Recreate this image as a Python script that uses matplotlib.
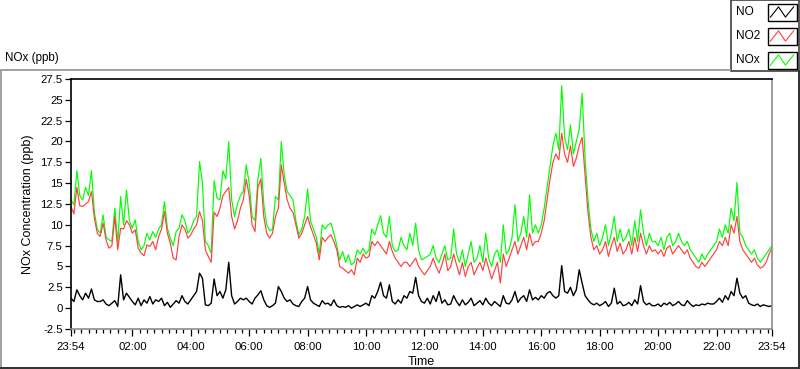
import numpy as np
import matplotlib
matplotlib.use("Agg")
import matplotlib.pyplot as plt
from matplotlib.patches import Rectangle

plt.rcParams["font.family"] = ["Liberation Sans", "DejaVu Sans"]
plt.rcParams["axes.unicode_minus"] = False

# hours since 23:54, one sample every 6 minutes (10 per hour)
STEP_H = 0.1

# NOx (ppb), rows = hours after 23:54
nox = [
    13.0, 12.4, 16.5, 13.5, 13.0, 14.5, 13.5, 16.5, 11.5, 9.5,
    9.0, 11.2, 8.5, 8.2, 8.0, 12.0, 7.8, 13.4, 10.0, 14.2,
    10.5, 9.6, 10.6, 8.0, 7.0, 7.5, 9.0, 8.2, 9.2, 8.5,
    9.5, 10.0, 12.8, 9.6, 8.4, 7.5, 9.2, 9.6, 11.2, 10.5,
    9.0, 9.5, 10.5, 11.0, 17.6, 15.0, 8.0, 7.5, 6.6, 15.3,
    13.2, 13.0, 16.5, 15.5, 20.0, 13.0, 11.0, 12.5, 13.5, 14.0,
    17.2, 15.0, 11.0, 10.5, 15.5, 18.0, 12.5, 10.0, 9.3, 9.5,
    13.4, 13.0, 20.0, 16.0, 14.0, 13.5, 13.0, 10.5, 8.8, 9.5,
    11.0, 14.3, 10.5, 9.5, 8.5, 6.5, 10.0, 9.5, 10.0, 10.2,
    9.0, 7.5, 5.8, 6.8, 5.5, 6.4, 5.2, 5.5, 7.0, 6.5,
    7.2, 6.5, 7.0, 9.5, 8.8, 10.0, 11.1, 9.0, 8.5, 11.0,
    7.5, 6.8, 7.0, 8.5, 7.5, 7.0, 9.0, 7.5, 10.2, 7.0,
    5.8, 6.0, 6.2, 6.5, 7.5, 6.0, 5.5, 6.5, 7.5, 5.8,
    6.0, 9.5, 6.5, 5.5, 7.0, 5.0, 6.5, 8.0, 5.5, 6.0,
    7.5, 5.5, 9.0, 6.0, 5.0, 6.5, 7.0, 5.5, 10.0, 6.5,
    7.0, 8.5, 12.4, 8.0, 9.0, 11.0, 8.5, 13.6, 9.0, 10.0,
    9.0, 10.0, 12.0, 14.5, 17.0, 19.5, 21.0, 19.0, 26.7, 20.5,
    19.0, 22.0, 18.5, 20.0, 21.5, 25.8, 18.0, 13.0, 9.5, 8.0,
    9.0, 7.5, 8.5, 10.0, 7.5, 9.0, 11.0, 8.0, 9.5, 8.0,
    8.5, 9.5, 7.5, 10.5, 8.0, 11.8, 9.0, 7.5, 9.0, 8.0,
    8.0, 7.5, 8.5, 7.0, 8.5, 9.0, 7.5, 8.0, 9.0, 8.0,
    7.5, 8.0, 7.0, 6.5, 6.0, 5.5, 6.5, 5.8, 6.5, 7.0,
    7.5, 8.0, 9.5, 8.5, 10.0, 9.0, 12.0, 10.5, 15.1, 9.0,
    8.5, 7.5, 7.0, 6.5, 7.0, 6.0, 5.5, 6.0, 6.5, 7.0,
    7.5,
]

no2 = [
    12.2, 11.3, 14.5, 12.3, 12.2, 12.5, 12.8, 14.0, 10.8, 9.0,
    8.6, 10.2, 8.2, 7.2, 7.5, 11.0, 7.0, 9.6, 9.5, 10.5,
    10.0, 9.0, 9.4, 7.2, 6.6, 6.3, 7.6, 7.4, 8.0, 7.0,
    8.6, 9.5, 11.6, 9.0, 7.8, 6.0, 5.8, 8.6, 10.0, 9.5,
    8.4, 8.8, 9.5, 10.0, 11.6, 10.5, 7.0, 6.2, 5.5, 11.5,
    11.0, 12.0, 13.5, 14.0, 14.5, 11.0, 9.5, 10.5, 12.0, 13.0,
    15.5, 13.5, 10.0, 9.2, 14.5, 15.5, 11.0, 9.0, 8.4, 9.0,
    11.0, 12.0, 17.2, 15.0, 13.0, 12.0, 11.5, 10.0, 8.4, 9.0,
    10.0, 11.0, 9.8, 8.8, 7.8, 5.8, 8.5, 8.0, 8.5, 8.8,
    8.0, 7.0, 5.0, 4.8, 4.5, 4.2, 4.6, 4.0, 6.0, 5.5,
    6.5, 6.0, 6.2, 8.0, 7.5, 8.0, 7.5, 7.0, 6.5, 8.0,
    6.8, 6.0, 5.5, 5.0, 5.5, 5.5, 5.0, 5.5, 6.0, 5.0,
    4.5, 4.0, 4.5, 5.0, 6.0, 5.0, 4.2, 5.2, 6.5, 4.5,
    5.0, 6.5, 5.2, 4.0, 5.5, 3.8, 5.0, 5.5, 4.0, 4.8,
    5.5, 4.5, 6.0, 4.8, 3.5, 4.5, 5.5, 3.0, 6.5, 5.0,
    6.0, 7.0, 8.0, 6.5, 7.5, 8.5, 7.0, 9.0, 7.5, 8.0,
    8.0, 9.0, 10.5, 13.0, 15.5, 17.5, 18.5, 17.8, 21.0, 18.5,
    17.5, 19.5, 17.0, 18.0, 19.5, 20.5, 16.0, 11.5, 8.5, 7.0,
    7.5, 6.5, 7.0, 8.0, 6.2, 7.5, 8.5, 6.8, 7.8, 6.5,
    7.0, 8.0, 6.5, 8.5, 6.8, 9.0, 7.5, 6.5, 7.5, 6.8,
    7.0, 6.5, 7.0, 6.2, 7.2, 7.5, 6.5, 7.0, 7.5, 7.0,
    6.5, 7.0, 6.0, 5.5, 5.0, 4.8, 5.5, 5.0, 5.5, 6.0,
    6.5, 7.0, 8.0, 7.5, 8.5, 7.5, 10.0, 9.0, 11.0, 8.0,
    7.0, 6.5, 6.0, 5.5, 6.0, 5.2, 4.8, 5.0, 5.5, 6.5,
    7.2,
]

no = [
    1.2, 0.8, 2.2, 1.5, 1.0, 1.8, 1.2, 2.3, 1.0, 0.8,
    0.8, 1.0, 0.5, 0.3, 0.6, 0.9, 0.2, 4.0, 1.0, 1.8,
    1.3, 0.8, 0.4, 1.2, 0.3, 1.0, 0.6, 1.4, 0.5, 1.0,
    0.8, 1.2, 0.3, 0.7, 0.1, 0.5, 0.9, 0.6, 1.5, 0.8,
    0.5, 1.0, 1.5, 2.0, 4.2, 3.6, 0.4, 0.3, 0.6, 3.5,
    1.5, 2.0, 1.2, 2.2, 5.5, 1.5, 0.5, 0.8, 1.2, 1.0,
    1.2, 0.8, 0.5, 1.2, 1.6, 2.1, 1.0, 0.3, 0.1, 0.3,
    0.6, 2.6, 2.0, 1.2, 0.8, 1.0, 0.5, 0.3, 0.2, 0.8,
    1.2, 2.6, 1.0, 0.6, 0.4, 0.2, 0.9, 0.5, 0.6, 0.3,
    1.0, 0.3, 0.1, 0.2, 0.1, 0.3, 0.0, 0.2, 0.4, 0.2,
    0.4, 0.6, 0.3, 1.5, 1.2, 2.0, 3.1, 1.5, 1.2, 2.8,
    0.8, 0.5, 1.0, 0.6, 1.5, 1.2, 2.0, 1.8, 3.7, 1.5,
    0.8, 0.6, 1.2, 0.5, 1.5, 0.8, 2.0, 0.6, 1.0, 0.4,
    0.5, 1.5, 0.8, 0.3, 1.0, 0.4, 0.7, 1.2, 0.3, 0.6,
    0.9, 0.4, 1.2, 0.6, 0.3, 0.8, 0.5, 0.2, 1.5, 0.6,
    0.5, 1.0, 2.0, 0.7, 1.2, 1.5, 0.8, 2.2, 1.0, 1.3,
    1.0, 1.5, 1.2, 1.8, 2.0, 1.5, 1.2, 1.5, 5.1, 2.0,
    1.8, 2.5, 1.5, 2.2, 4.6, 3.0, 1.5, 1.0, 0.6, 0.4,
    0.6, 0.3, 0.5, 0.8, 0.2, 0.6, 2.4, 0.5, 0.8, 0.3,
    0.4, 0.7, 0.3, 1.0, 0.5, 2.7, 0.8, 0.4, 0.6, 0.3,
    0.3, 0.5, 0.2, 0.6, 0.4, 0.7, 0.3, 0.5, 0.8, 0.4,
    0.3, 0.9, 0.5, 0.2, 0.4, 0.3, 0.5, 0.4, 0.6, 0.5,
    0.5, 0.8, 1.2, 0.7, 1.5, 1.0, 2.0, 1.5, 3.6, 1.8,
    1.2, 1.5, 0.6, 0.4, 0.3, 0.5, 0.2, 0.4, 0.3, 0.2,
    0.3,
]

xtick_pos = [0, 2.1, 4.1, 6.1, 8.1, 10.1, 12.1, 14.1, 16.1, 18.1, 20.1, 22.1, 24]
xtick_labels = ["23:54", "02:00", "04:00", "06:00", "08:00", "10:00", "12:00",
                "14:00", "16:00", "18:00", "20:00", "22:00", "23:54"]
yticks = [-2.5, 0, 2.5, 5, 7.5, 10, 12.5, 15, 17.5, 20, 22.5, 25, 27.5]

series_names = ["NO", "NO2", "NOx"]
series_colors = ["#000000", "#ff4040", "#00ff00"]

W, H = 800, 369
fig = plt.figure(figsize=(W / 100, H / 100), dpi=100)
fig.patch.set_facecolor("white")

# background overlay in pixel coords for the panel frame + legend
bg = fig.add_axes([0, 0, 1, 1], zorder=0)
bg.set_xlim(0, W)
bg.set_ylim(H, 0)
bg.axis("off")
bg.plot([0.5, 0.5], [69.5, 368], color="#a0a0a0", lw=1.4)
bg.plot([0.5, 730], [69.5, 69.5], color="#a0a0a0", lw=1.4)
bg.plot([798.5, 798.5], [71, 368], color="#303030", lw=1.4)
bg.plot([0.5, 798.5], [367.5, 367.5], color="#303030", lw=1.4)
bg.text(5, 58, "NOx (ppb)", fontsize=8.4, ha="left", va="center")

# legend box
bg.add_patch(Rectangle((730.5, 0), 68.5, 71, fill=False, ec="#404040", lw=1.2))
row_y = [12, 36, 60]
for name, col, yc in zip(series_names, series_colors, row_y):
    bg.text(736, yc, name, fontsize=8.6, ha="left", va="center")
    bg.add_patch(Rectangle((767.5, yc - 8.5), 29, 17, fill=False, ec="black", lw=1.0))
    zx = np.array([0.1, 0.38, 0.62, 0.9]) * 29 + 767.5
    zy = np.array([0.8, 0.2, 0.8, 0.2]) * 17 + yc - 8.5
    bg.plot(zx, zy, color=col, lw=0.8)

ax = fig.add_axes([71 / W, 1 - 329 / H, 701 / W, 250 / H], zorder=1)
t = np.arange(len(nox)) * STEP_H
ax.plot(t, nox, color=series_colors[2], lw=0.85)
ax.plot(t, no2, color=series_colors[1], lw=0.85)
ax.plot(t, no, color=series_colors[0], lw=1.0)

ax.set_xlim(0, 24)
ax.set_ylim(-2.5, 27.5)
ax.set_yticks(yticks)
ax.set_yticklabels([f"{v:g}" for v in yticks])
ax.set_xticks(xtick_pos)
ax.set_xticklabels(xtick_labels)
ax.set_xticks(np.arange(0.1, 24, 0.25), minor=True)
ax.tick_params(axis="both", which="major", labelsize=8.2, length=4, width=0.9, pad=2)
ax.tick_params(axis="x", which="minor", length=3, width=0.9)
ax.tick_params(axis="x", which="major", length=5, pad=4)

for side in ["top", "left"]:
    ax.spines[side].set_color("black")
for side in ["bottom", "right"]:
    ax.spines[side].set_color("#8c8c8c")
for sp in ax.spines.values():
    sp.set_linewidth(1.2)

ax.set_xlabel("Time", fontsize=9, labelpad=3)
ax.set_ylabel("NOx Concentration (ppb)", fontsize=9, labelpad=5)

fig.savefig("out.png", dpi=100)
